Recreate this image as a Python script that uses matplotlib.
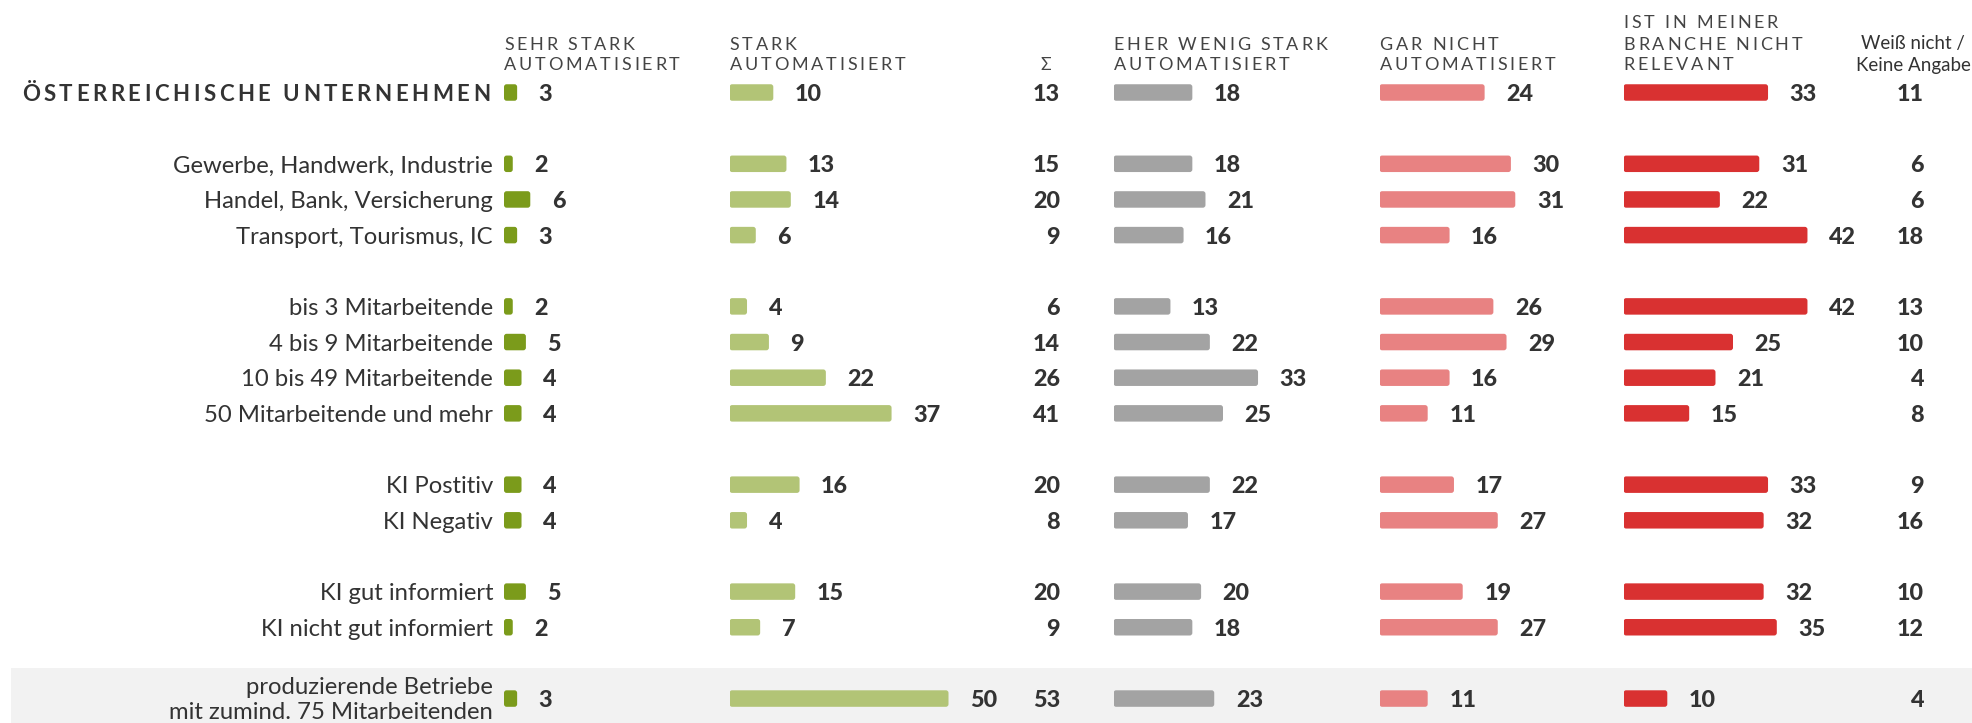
import matplotlib
matplotlib.use("Agg")
import matplotlib.pyplot as plt
from matplotlib.font_manager import FontProperties, findfont
from matplotlib.ft2font import FT2Font
from matplotlib.patches import FancyBboxPatch, Rectangle

# ---- data ----
labels = ["ÖSTERREICHISCHE UNTERNEHMEN",
          "Gewerbe, Handwerk, Industrie",
          "Handel, Bank, Versicherung",
          "Transport, Tourismus, IC",
          "bis 3 Mitarbeitende",
          "4 bis 9 Mitarbeitende",
          "10 bis 49 Mitarbeitende",
          "50 Mitarbeitende und mehr",
          "KI Postitiv",
          "KI Negativ",
          "KI gut informiert",
          "KI nicht gut informiert",
          "produzierende Betriebe\nmit zumind. 75 Mitarbeitenden"]
sehr_stark = [3, 2, 6, 3, 2, 5, 4, 4, 4, 4, 5, 2, 3]
stark = [10, 13, 14, 6, 4, 9, 22, 37, 16, 4, 15, 7, 50]
summe = [13, 15, 20, 9, 6, 14, 26, 41, 20, 8, 20, 9, 53]
eher_wenig = [18, 18, 21, 16, 13, 22, 33, 25, 22, 17, 20, 18, 23]
gar_nicht = [24, 30, 31, 16, 26, 29, 16, 11, 17, 27, 19, 27, 11]
nicht_relevant = [33, 31, 22, 42, 42, 25, 21, 15, 33, 32, 32, 35, 10]
weiss_nicht = [11, 6, 6, 18, 13, 10, 4, 8, 9, 16, 10, 12, 4]

col_heads = ["SEHR STARK\nAUTOMATISIERT", "STARK\nAUTOMATISIERT",
             "EHER WENIG STARK\nAUTOMATISIERT", "GAR NICHT\nAUTOMATISIERT",
             "IST IN MEINER\nBRANCHE NICHT\nRELEVANT"]
sum_head = "Σ"
wn_head = "Weiß nicht /\nKeine Angabe"

# ---- layout (pixels) ----
W, H = 1972, 723
slots = [0, 2, 3, 4, 6, 7, 8, 9, 11, 12, 14, 15, 17]
ys = [92.5 + s * 35.65 for s in slots]
col_x = [504, 729.5, 1113.5, 1379.5, 1623.5]
px_per_unit = 4.38
colors = ["#7b9b1b", "#b2c476", "#a3a3a3", "#e88282", "#d93131"]
series = [sehr_stark, stark, eher_wenig, gar_nicht, nicht_relevant]
dark = "#333333"
head_col = "#444444"

fig = plt.figure(figsize=(W / 100, H / 100), dpi=100)
ax = fig.add_axes([0, 0, 1, 1])
ax.set_xlim(0, W)
ax.set_ylim(H, 0)
ax.axis("off")

lab_fp = FontProperties(family="Lato", size=17.2)
val_fp = FontProperties(family="Lato", size=16.8, weight="black")
head_fp = FontProperties(family="Lato", size=13)
title_fp = FontProperties(family="Lato", size=16, weight="bold")
val_dy = 8.5


def spaced(x, y, s, fp, track, ha="left", color=head_col):
    font = FT2Font(findfont(fp))
    font.set_size(fp.get_size_in_points(), 100)
    adv = [font.load_char(ord(c)).linearHoriAdvance / 65536 for c in s]
    total = sum(adv) + track * (len(s) - 1)
    if ha == "right":
        x -= total
    for c, a in zip(s, adv):
        if c != " ":
            ax.text(x, y, c, fontproperties=fp, color=color, va="baseline", ha="left")
        x += a + track


# gray band behind last row
ax.add_patch(Rectangle((11, ys[-1] - 30.5), W - 11, H - ys[-1] + 30.5,
                       facecolor="#f2f2f2", edgecolor="none", zorder=0))

# row labels
for i, (lab, y) in enumerate(zip(labels, ys)):
    if i == 0:
        spaced(490, y + 8.2, lab, title_fp, 3.5, ha="right", color=dark)
    elif "\n" in lab:
        ax.text(493, y + 1, lab, fontproperties=lab_fp, color=dark,
                ha="right", va="center", linespacing=1.23)
    else:
        ax.text(493, y + 8.6, lab, fontproperties=lab_fp, color=dark,
                ha="right", va="baseline")

# bar columns
for x0, vals, col, head in zip(col_x, series, colors, col_heads):
    cax = fig.add_axes([x0 / W, 0, 240 / W, 1])
    cax.set_xlim(0, 240 / px_per_unit)
    cax.set_ylim(H, 0)
    cax.axis("off")
    bars = cax.barh(ys, vals, height=16.5, color=col)
    for r in list(bars):
        bx, by, bw, bh = r.get_x(), r.get_y(), r.get_width(), r.get_height()
        r.remove()
        cax.add_patch(FancyBboxPatch((bx, by), bw, bh,
                                     boxstyle="round,pad=0,rounding_size=0.6",
                                     mutation_aspect=px_per_unit,
                                     facecolor=col, edgecolor="none"))
    for v, y in zip(vals, ys):
        cax.annotate(str(v), (v, y + val_dy), xytext=(15.5, 0), textcoords="offset points",
                     fontproperties=val_fp, color=dark, va="baseline", ha="left",
                     annotation_clip=False)
    lines = head.split("\n")
    for k, line in enumerate(reversed(lines)):
        spaced(x0, 70.5 - k * 21, line, head_fp, 2.8)

# sum and "weiß nicht" columns
for v, y in zip(summe, ys):
    ax.text(1060, y + val_dy, str(v), fontproperties=val_fp, color=dark,
            ha="right", va="baseline")
for v, y in zip(weiss_nicht, ys):
    ax.text(1924, y + val_dy, str(v), fontproperties=val_fp, color=dark,
            ha="right", va="baseline")

ax.text(1046, 70.5, sum_head, family=["Lato", "DejaVu Sans"], size=12.5,
        color=head_col, ha="center", va="baseline")
for k, line in enumerate(reversed(wn_head.split("\n"))):
    ax.text(1913, 70.5 - k * 21, line, family="Lato", size=13.5,
            color=dark, ha="center", va="baseline")

fig.savefig("out.png", dpi=100)
